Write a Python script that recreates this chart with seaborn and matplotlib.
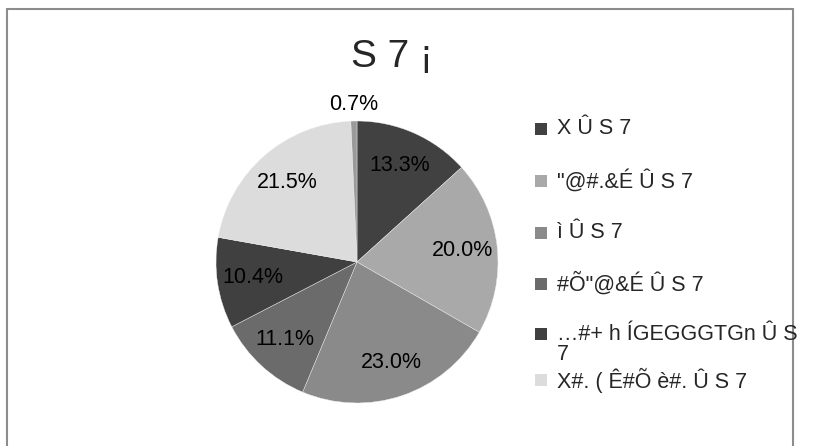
import matplotlib
matplotlib.use("Agg")
import matplotlib.pyplot as plt
import seaborn as sns
import numpy as np
from matplotlib.lines import Line2D
from matplotlib.patches import Rectangle

sns.set_theme(style="white")
plt.rcParams['font.family'] = ['Liberation Sans', 'DejaVu Sans']

title = "S 7 ¡"
categories = ["X Û S 7", "\"@#.&É Û S 7", "ì Û S 7", "#Õ\"@&É Û S 7",
              "…#+ h ÍGEGGGTGn Û S\n7", "X#. ( Ê#Õ è#. Û S 7", ""]
values = [13.3, 20.0, 23.0, 11.1, 10.4, 21.5, 0.7]
colors = ["#414141", "#a9a9a9", "#8a8a8a", "#6b6b6b", "#404040", "#dcdcdc", "#9a9a9a"]

W, H = 818, 446
fig = plt.figure(figsize=(W / 100, H / 100), dpi=100)
fig.patch.set_facecolor("white")

cx, cy, r = 357, 262, 141
ax = fig.add_axes([(cx - r) / W, 1 - (cy + r) / H, 2 * r / W, 2 * r / H])
wedges, texts, autotexts = ax.pie(
    values, colors=colors, startangle=90, counterclock=False,
    autopct="%.1f%%", pctdistance=0.75, radius=1.0,
    wedgeprops=dict(edgecolor="#f0f0f0", linewidth=0.3),
    textprops=dict(fontsize=15.5, color="black"))
ax.set_xlim(-1, 1)
ax.set_ylim(-1, 1)
ax.set_aspect("equal")
ax.axis("off")

# small slice label outside
w = wedges[-1]
ang = np.deg2rad((w.theta1 + w.theta2) / 2)
autotexts[-1].set_position((1.12 * np.cos(ang), 1.12 * np.sin(ang)))

fig.text(392 / W, 1 - 67 / H, title, fontsize=28, ha="center", va="baseline")

# legend
rows = [129, 181, 233, 284, 334, 380]
for i, yc in enumerate(rows):
    fig.add_artist(Rectangle((535 / W, 1 - (yc + 6) / H), 12 / W, 12 / H,
                             transform=fig.transFigure, facecolor=colors[i],
                             edgecolor="none"))
    lab = categories[i]
    if "\n" in lab:
        fig.text(557 / W, 1 - (yc - 10) / H, lab, fontsize=15.5, ha="left",
                 va="top", linespacing=0.95)
    else:
        fig.text(557 / W, 1 - yc / H, lab, fontsize=15.5, ha="left", va="center")

# chart border
bc = "#8c8c8c"
for (x0, y0, x1, y1) in [(7, 9, 793, 9), (7, 9, 7, 446), (793, 9, 793, 446)]:
    fig.add_artist(Line2D([x0 / W, x1 / W], [1 - y0 / H, 1 - y1 / H],
                          transform=fig.transFigure, color=bc, linewidth=1.5))

fig.savefig("out.png", dpi=100, facecolor="white")
